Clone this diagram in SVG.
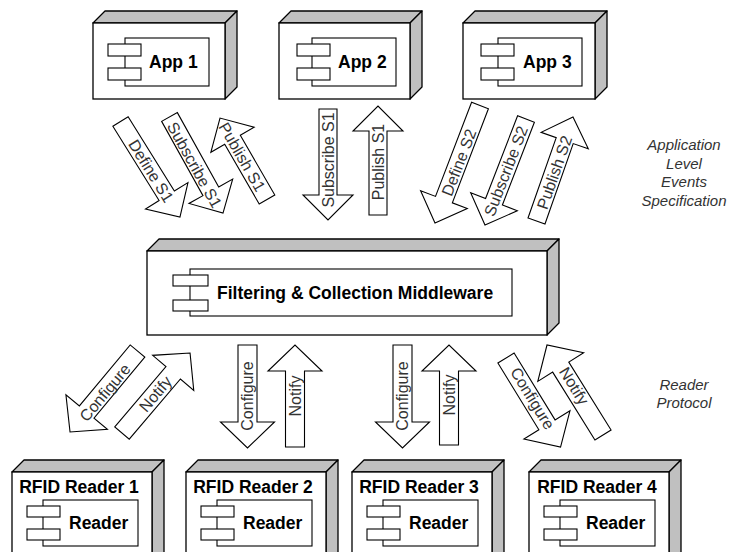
<svg xmlns="http://www.w3.org/2000/svg" width="730" height="552" viewBox="0 0 730 552">
<style>
.front{fill:#fff;stroke:#000;stroke-width:1.3}
.shade{fill:#c0c0c0;stroke:#000;stroke-width:1.3;stroke-linejoin:round}
.comp{fill:#fff;stroke:#000;stroke-width:1.1}
.lbl{font-family:"Liberation Sans",Arial,sans-serif;font-weight:bold;font-size:17.5px;fill:#000;dominant-baseline:central}
.arrow{fill:#fff;stroke:#000;stroke-width:1.1;stroke-linejoin:miter}
.atxt{font-family:"Liberation Sans",Arial,sans-serif;font-size:16px;fill:#333;text-anchor:middle;dominant-baseline:central}
.side{font-family:"Liberation Sans",Arial,sans-serif;font-style:italic;font-size:15px;fill:#333;text-anchor:middle}
</style>
<rect width="730" height="552" fill="#fff"/>

<g id="app1">
<polygon class="shade" points="93,23 105,11 237,11 225,23"/>
<polygon class="shade" points="225,23 237,11 237,87 225,99"/>
<rect class="front" x="93" y="23" width="132" height="76"/>
<rect class="comp" x="125" y="38" width="84" height="48"/>
<rect class="comp" x="108" y="44" width="33" height="12"/>
<rect class="comp" x="108" y="68" width="33" height="12"/>
<text class="lbl" x="149" y="62">App 1</text>
</g>

<g id="app2">
<polygon class="shade" points="279,23 291,11 422,11 410,23"/>
<polygon class="shade" points="410,23 422,11 422,87 410,99"/>
<rect class="front" x="279" y="23" width="131" height="76"/>
<rect class="comp" x="312" y="38" width="84" height="48"/>
<rect class="comp" x="297" y="44" width="33" height="12"/>
<rect class="comp" x="297" y="68" width="33" height="12"/>
<text class="lbl" x="338" y="62">App 2</text>
</g>

<g id="app3">
<polygon class="shade" points="463,23 475,11 607,11 595,23"/>
<polygon class="shade" points="595,23 607,11 607,87 595,99"/>
<rect class="front" x="463" y="23" width="132" height="76"/>
<rect class="comp" x="498" y="38" width="84" height="48"/>
<rect class="comp" x="481" y="44" width="33" height="12"/>
<rect class="comp" x="481" y="68" width="33" height="12"/>
<text class="lbl" x="523" y="62">App 3</text>
</g>

<g id="middleware">
<polygon class="shade" points="147,251 159,239 559,239 547,251"/>
<polygon class="shade" points="547,251 559,239 559,323 547,335"/>
<rect class="front" x="147" y="251" width="400" height="84"/>
<rect class="comp" x="190" y="269" width="322" height="47"/>
<rect class="comp" x="173" y="275" width="35" height="11"/>
<rect class="comp" x="173" y="300" width="35" height="11"/>
<text class="lbl" x="217" y="293">Filtering &amp; Collection Middleware</text>
</g>

<g id="reader1">
<polygon class="shade" points="12,472 24,460 164,460 152,472"/>
<polygon class="shade" points="152,472 164,460 164,560 152,572"/>
<rect class="front" x="12" y="472" width="140" height="100"/>
<text class="lbl" x="79" y="487" text-anchor="middle">RFID Reader 1</text>
<rect class="comp" x="43" y="500" width="95" height="46"/>
<rect class="comp" x="27" y="506" width="33" height="11"/>
<rect class="comp" x="27" y="529" width="33" height="11"/>
<text class="lbl" x="69" y="523">Reader</text>
</g>

<g id="reader2">
<polygon class="shade" points="186,472 198,460 338,460 326,472"/>
<polygon class="shade" points="326,472 338,460 338,560 326,572"/>
<rect class="front" x="186" y="472" width="140" height="100"/>
<text class="lbl" x="253" y="487" text-anchor="middle">RFID Reader 2</text>
<rect class="comp" x="217" y="500" width="95" height="46"/>
<rect class="comp" x="201" y="506" width="33" height="11"/>
<rect class="comp" x="201" y="529" width="33" height="11"/>
<text class="lbl" x="243" y="523">Reader</text>
</g>

<g id="reader3">
<polygon class="shade" points="352,472 364,460 504,460 492,472"/>
<polygon class="shade" points="492,472 504,460 504,560 492,572"/>
<rect class="front" x="352" y="472" width="140" height="100"/>
<text class="lbl" x="419" y="487" text-anchor="middle">RFID Reader 3</text>
<rect class="comp" x="383" y="500" width="95" height="46"/>
<rect class="comp" x="367" y="506" width="33" height="11"/>
<rect class="comp" x="367" y="529" width="33" height="11"/>
<text class="lbl" x="409" y="523">Reader</text>
</g>

<g id="reader4">
<polygon class="shade" points="529,472 541,460 681,460 669,472"/>
<polygon class="shade" points="669,472 681,460 681,560 669,572"/>
<rect class="front" x="529" y="472" width="140" height="100"/>
<text class="lbl" x="597" y="487" text-anchor="middle">RFID Reader 4</text>
<rect class="comp" x="560" y="500" width="95" height="46"/>
<rect class="comp" x="544" y="506" width="33" height="11"/>
<rect class="comp" x="544" y="529" width="33" height="11"/>
<text class="lbl" x="586" y="523">Reader</text>
</g>

<g id="connectors">
<!-- application level -->
<path class="arrow" transform="translate(120.5,121.5) rotate(58.1)" d="M0,-9 H87.5 V-25 L112.5,0 L87.5,25 V9 H0 Z"/>
<path class="arrow" transform="translate(169.5,117) rotate(60.9)" d="M0,-9 H85 V-25 L110,0 L85,25 V9 H0 Z"/>
<path class="arrow" transform="translate(267,199.5) rotate(-120)" d="M0,-9 H69 V-25 L94,0 L69,25 V9 H0 Z"/>
<path class="arrow" transform="translate(328,109) rotate(90)" d="M0,-9 H86 V-25 L111,0 L86,25 V9 H0 Z"/>
<path class="arrow" transform="translate(378,215) rotate(-90)" d="M0,-9 H84 V-25 L109,0 L84,25 V9 H0 Z"/>
<path class="arrow" transform="translate(480,105.5) rotate(110.96)" d="M0,-9 H100.8 V-25 L125.8,0 L100.8,25 V9 H0 Z"/>
<path class="arrow" transform="translate(526,119) rotate(111.15)" d="M0,-9 H88.7 V-25 L113.7,0 L88.7,25 V9 H0 Z"/>
<path class="arrow" transform="translate(536.5,221) rotate(-70.67)" d="M0,-9 H85.2 V-25 L110.2,0 L85.2,25 V9 H0 Z"/>

<text class="atxt" transform="rotate(58.1,151,171)" x="151" y="171">Define S1</text>
<text class="atxt" transform="rotate(60.9,194.5,165)" x="194.5" y="165">Subscribe S1</text>
<text class="atxt" transform="rotate(60,242,157)" x="242" y="157">Publish S1</text>
<text class="atxt" transform="rotate(-90,328,160)" x="328" y="160">Subscribe S1</text>
<text class="atxt" transform="rotate(-90,378,162)" x="378" y="162">Publish S1</text>
<text class="atxt" transform="rotate(-69,459,162.5)" x="459" y="162.5">Define S2</text>
<text class="atxt" transform="rotate(-68.9,506,171)" x="506" y="171">Subscribe S2</text>
<text class="atxt" transform="rotate(-70.7,554.5,172.5)" x="554.5" y="172.5">Publish S2</text>

<!-- reader protocol -->
<path class="arrow" transform="translate(137.5,351) rotate(129.8)" d="M0,-9.5 H79.4 V-27 L105.4,0 L79.4,27 V9.5 H0 Z"/>
<path class="arrow" transform="translate(122,433) rotate(-49.6)" d="M0,-9.5 H79 V-27 L105,0 L79,27 V9.5 H0 Z"/>
<path class="arrow" transform="translate(247.5,345) rotate(90)" d="M0,-9.5 H77 V-27 L103,0 L77,27 V9.5 H0 Z"/>
<path class="arrow" transform="translate(295,447) rotate(-90)" d="M0,-9.5 H76 V-27 L102,0 L76,27 V9.5 H0 Z"/>
<path class="arrow" transform="translate(402.5,345) rotate(90)" d="M0,-9.5 H77 V-27 L103,0 L77,27 V9.5 H0 Z"/>
<path class="arrow" transform="translate(449,445) rotate(-90)" d="M0,-9.5 H74 V-27 L100,0 L74,27 V9.5 H0 Z"/>
<path class="arrow" transform="translate(506,358) rotate(58.5)" d="M0,-9.5 H78.4 V-27 L104.4,0 L78.4,27 V9.5 H0 Z"/>
<path class="arrow" transform="translate(603,435) rotate(-121.9)" d="M0,-9.5 H80 V-27 L106,0 L80,27 V9.5 H0 Z"/>

<text class="atxt" transform="rotate(-50.2,105,392.5)" x="105" y="392.5">Configure</text>
<text class="atxt" transform="rotate(-49.6,155.5,394)" x="155.5" y="394">Notify</text>
<text class="atxt" transform="rotate(-90,247.5,396)" x="247.5" y="396">Configure</text>
<text class="atxt" transform="rotate(-90,295,396)" x="295" y="396">Notify</text>
<text class="atxt" transform="rotate(-90,402.5,396)" x="402.5" y="396">Configure</text>
<text class="atxt" transform="rotate(-90,449,395)" x="449" y="395">Notify</text>
<text class="atxt" transform="rotate(58.5,532.5,398.5)" x="532.5" y="398.5">Configure</text>
<text class="atxt" transform="rotate(58.1,574,386)" x="574" y="386">Notify</text>
</g>

<g id="side-labels">
<text class="side" x="684" y="150">Application</text>
<text class="side" x="684" y="168.5">Level</text>
<text class="side" x="684" y="187">Events</text>
<text class="side" x="684" y="205.5">Specification</text>
<text class="side" x="684" y="390">Reader</text>
<text class="side" x="684" y="408">Protocol</text>
</g>
</svg>
